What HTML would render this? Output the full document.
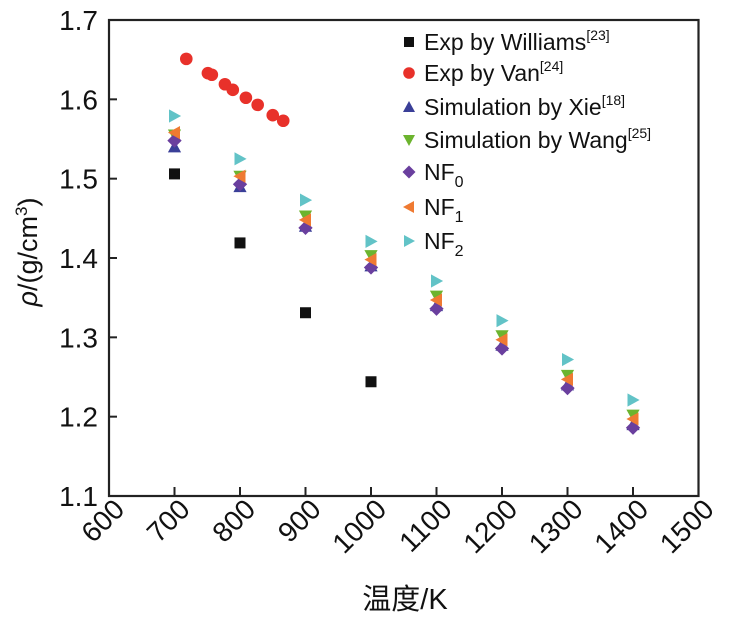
<!DOCTYPE html>
<html><head><meta charset="utf-8"><style>
html,body{margin:0;padding:0;background:#fff;}
svg text{font-family:"Liberation Sans","Noto Sans CJK SC",sans-serif;fill:#111;}
</style></head><body>
<svg id="chart" width="729" height="618" viewBox="0 0 729 618" xmlns="http://www.w3.org/2000/svg">
<g id="axes"></g>
<g id="marks"></g>
<g id="legend"></g>
<text x="405" y="609" font-size="29" text-anchor="middle">温度/K</text>
<text transform="translate(37,252) rotate(-90)" font-size="27" text-anchor="middle"><tspan font-style="italic">ρ</tspan>/(g/cm<tspan font-size="17" dy="-10">3</tspan><tspan dy="10">)</tspan></text>
</svg>
<script>
const xTicks=[600,700,800,900,1000,1100,1200,1300,1400,1500];
const yTicks=[1.1,1.2,1.3,1.4,1.5,1.6,1.7];
const yTickLabels=["1.1","1.2","1.3","1.4","1.5","1.6","1.7"];
const temps=[700,800,900,1000,1100,1200,1300,1400];
const williamsT=[700,800,900,1000];
const williams=[1.506,1.419,1.331,1.244];
const vanT=[718,751,757,777,789,809,827,850,866];
const van=[1.651,1.633,1.631,1.619,1.612,1.602,1.593,1.580,1.573];
const xie=[1.540,1.490,1.440,1.390,1.340,1.290,1.240,1.190];
const wang=[1.555,1.503,1.453,1.403,1.352,1.302,1.252,1.202];
const nf0=[1.548,1.493,1.438,1.388,1.336,1.286,1.236,1.186];
const nf1=[1.558,1.503,1.448,1.398,1.347,1.297,1.247,1.197];
const nf2=[1.579,1.525,1.473,1.421,1.371,1.321,1.272,1.221];

const NS="http://www.w3.org/2000/svg";
const L=109,R=698.5,T=20,B=496;
const xs=v=>L+(v-600)/900*(R-L);
const ys=v=>B-(v-1.1)/0.6*(B-T);
function mk(tag,attrs,parent){const e=document.createElementNS(NS,tag);for(const k in attrs)e.setAttribute(k,attrs[k]);parent.appendChild(e);return e;}
const axes=document.getElementById('axes');
const frame=mk('rect',{x:L,y:T,width:R-L,height:B-T,fill:'none',stroke:'#222','stroke-width':2.2},axes);


xTicks.forEach(v=>{
  const t=mk('line',{x1:xs(v),x2:xs(v),y1:B,y2:B-9,stroke:'#222','stroke-width':2},axes);
  
  
  const lb=mk('text',{transform:`translate(${xs(v)+17},${B+15}) rotate(-45)`,'font-size':28,'text-anchor':'end'},axes);
  lb.textContent=String(v);
  
  
});
yTicks.forEach((v,i)=>{
  const t=mk('line',{x1:L,x2:L+8,y1:ys(v),y2:ys(v),stroke:'#222','stroke-width':2},axes);
  
  
  const lb=mk('text',{x:98,y:ys(v)+10,'font-size':28,'text-anchor':'end'},axes);
  lb.textContent=yTickLabels[i];
  
  
});
function marker(type,cx,cy,color,s,parent){
  let e;
  if(type==='square')e=mk('rect',{x:cx-s,y:cy-s,width:2*s,height:2*s,fill:color},parent);
  else if(type==='circle')e=mk('circle',{cx:cx,cy:cy,r:s+0.8,fill:color},parent);
  else{
    let p;
    if(type==='up')p=[[cx,cy-s*1.2],[cx+s*1.2,cy+s],[cx-s*1.2,cy+s]];
    if(type==='down')p=[[cx,cy+s*1.2],[cx+s*1.2,cy-s],[cx-s*1.2,cy-s]];
    if(type==='left')p=[[cx-s*1.2,cy],[cx+s,cy-s*1.2],[cx+s,cy+s*1.2]];
    if(type==='right')p=[[cx+s*1.2,cy],[cx-s,cy-s*1.2],[cx-s,cy+s*1.2]];
    if(type==='diamond')p=[[cx,cy-s*1.3],[cx+s*1.3,cy],[cx,cy+s*1.3],[cx-s*1.3,cy]];
    e=mk('polygon',{points:p.map(q=>q.join(',')).join(' '),fill:color},parent);
  }
  return e;
}
const marks=document.getElementById('marks');
const series=[
 {name:'williams',type:'square',color:'#111',xv:williamsT,yv:williams,label:'Exp by Williams',sup:'[23]'},
 {name:'van',type:'circle',color:'#e8312a',xv:vanT,yv:van,label:'Exp by Van',sup:'[24]'},
 {name:'xie',type:'up',color:'#3a3f98',xv:temps,yv:xie,label:'Simulation by Xie',sup:'[18]'},
 {name:'wang',type:'down',color:'#6cb42e',xv:temps,yv:wang,label:'Simulation by Wang',sup:'[25]'},
 {name:'nf0',type:'diamond',color:'#6a3f9e',xv:temps,yv:nf0,label:'NF',sub:'0'},
 {name:'nf1',type:'left',color:'#ef7a32',xv:temps,yv:nf1,label:'NF',sub:'1'},
 {name:'nf2',type:'right',color:'#62c3c7',xv:temps,yv:nf2,label:'NF',sub:'2'}
];
series.forEach(s=>{
  const g=mk('g',{},marks);
  
  
  s.yv.forEach((v,i)=>{
    const m=marker(s.type,xs(s.xv[i]),ys(v),s.color,5.5,g);
    
    
  });
});
const legend=document.getElementById('legend');
const rowsY=[42,73,107,140,172,207,241];
series.forEach((s,i)=>{
  const g=mk('g',{},legend);
  
  
  const m=marker(s.type,409,rowsY[i],s.color,5,g);
  
  
  const t=mk('text',{x:424,y:rowsY[i]+8,'font-size':23},g);
  
  
  t.appendChild(document.createTextNode(s.label));
  if(s.sup){const sp=mk('tspan',{'font-size':14,dy:-10},t);sp.textContent=s.sup;}
  if(s.sub){const sp=mk('tspan',{'font-size':16,dy:7},t);sp.textContent=s.sub;}
});
</script>
</body></html>
